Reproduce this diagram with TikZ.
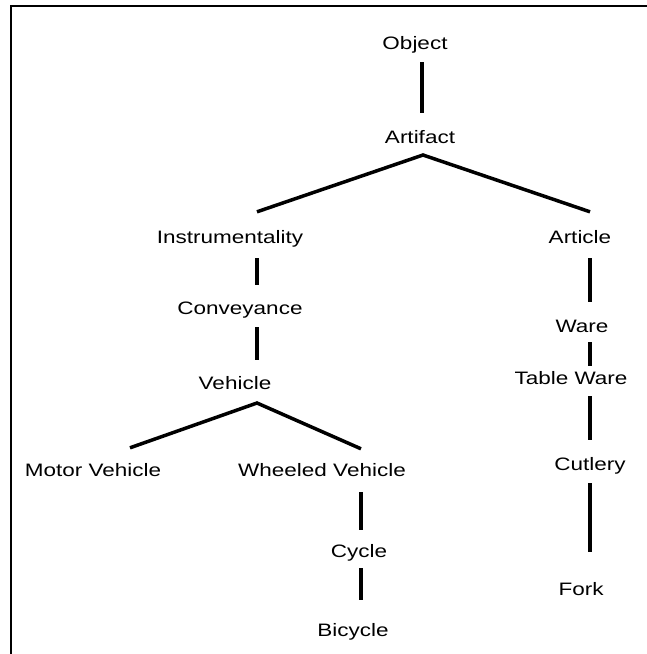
\documentclass[tikz,border=0pt]{standalone}
\usepackage{fontspec}
\setmainfont{Liberation Sans}[FakeStretch=1.25]
\begin{document}
\begin{tikzpicture}[x=1pt,y=-1pt,
  lbl/.style={inner sep=0pt, text height=13pt, text depth=4pt, font=\fontsize{18}{20}\selectfont},
  edge/.style={line width=3.5pt, line join=miter},
  frame/.style={line width=2pt}]
\useasboundingbox (0,0) rectangle (646,654);
\draw[frame] (11,660) -- (11,5.5) -- (652,5.5);
% columns
\coordinate (cT) at (422,0);
\coordinate (cL) at (257,0);
\coordinate (cR) at (590,0);
\coordinate (cM) at (130,0);
\coordinate (cW) at (361,0);
% nodes (x, cap centre + 2)
\node[lbl] (obj)   at (415,45)  {Object};
\node[lbl] (art)   at (420,139) {Artifact};
\node[lbl] (ins)   at (230,239) {Instrumentality};
\node[lbl] (artc)  at (580,239) {Article};
\node[lbl] (conv)  at (240,310) {Conveyance};
\node[lbl] (ware)  at (582,328) {Ware};
\node[lbl] (veh)   at (235,385) {Vehicle};
\node[lbl] (tw)    at (571,380) {Table Ware};
\node[lbl] (mv)    at (93,472)  {Motor Vehicle};
\node[lbl] (wv)    at (322,472) {Wheeled Vehicle};
\node[lbl] (cut)   at (590,466) {Cutlery};
\node[lbl] (cyc)   at (359,553) {Cycle};
\node[lbl] (fork)  at (581,591) {Fork};
\node[lbl] (bic)   at (353,632) {Bicycle};
% branch apexes
\coordinate (apA) at (423,155);
\coordinate (apV) at (257,403);
% connectors
\draw[edge] ([yshift=-8.5pt]obj.south -| cT) -- ([yshift=17.5pt]art.north -| cT);
\draw[edge] ([yshift=18.5pt]ins.north -| cL) -- (apA) -- ([yshift=18.5pt]artc.north -| cR);
\draw[edge] ([yshift=-10.5pt]ins.south -| cL) -- ([yshift=16.5pt]conv.north -| cL);
\draw[edge] ([yshift=-8.5pt]conv.south -| cL) -- ([yshift=16.5pt]veh.north -| cL);
\draw[edge] ([yshift=15.5pt]mv.north -| cM) -- (apV) -- ([yshift=14.5pt]wv.north -| cW);
\draw[edge] ([yshift=-11.5pt]wv.south -| cW) -- ([yshift=14.5pt]cyc.north -| cW);
\draw[edge] ([yshift=-6.5pt]cyc.south -| cW) -- ([yshift=23.5pt]bic.north -| cW);
\draw[edge] ([yshift=-10.5pt]artc.south -| cR) -- ([yshift=17.5pt]ware.north -| cR);
\draw[edge] ([yshift=-5.5pt]ware.south -| cR) -- ([yshift=5.5pt]tw.north -| cR);
\draw[edge] ([yshift=-7.5pt]tw.south -| cR) -- ([yshift=17.5pt]cut.north -| cR);
\draw[edge] ([yshift=-8.5pt]cut.south -| cR) -- ([yshift=30.5pt]fork.north -| cR);
\end{tikzpicture}
\end{document}
